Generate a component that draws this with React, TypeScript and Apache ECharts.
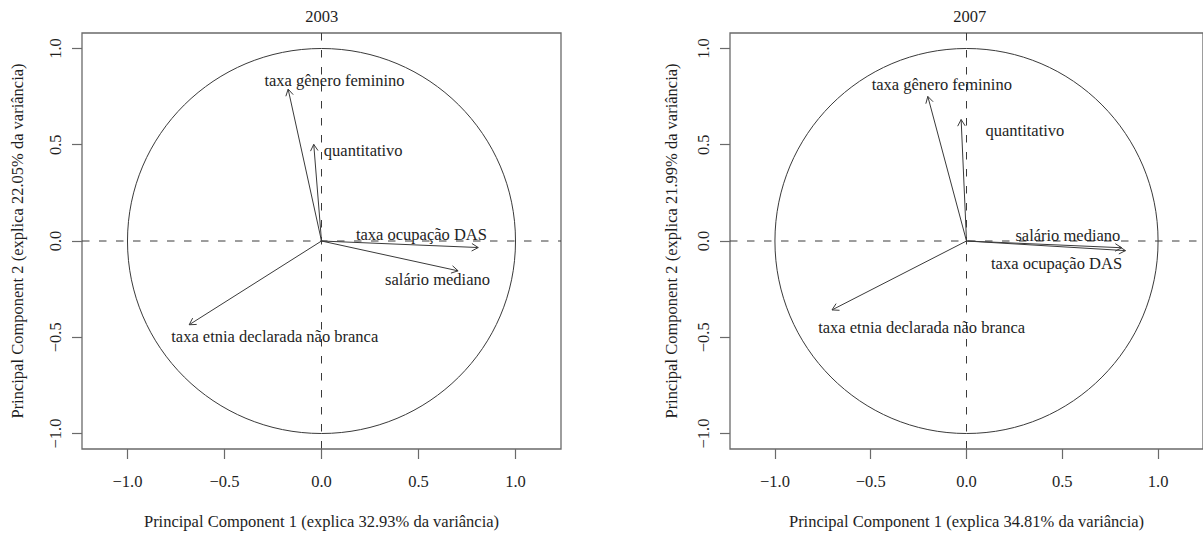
import React, { useEffect, useRef } from "react";
import * as echarts from "echarts";

const variables = [
  "quantitativo",
  "taxa gênero feminino",
  "taxa etnia declarada não branca",
  "taxa ocupação DAS",
  "salário mediano",
];

// 2003 loadings (PC1, PC2) and label anchors (data units)
const pc1_2003 = [-0.04, -0.172, -0.682, 0.808, 0.704];
const pc2_2003 = [0.502, 0.789, -0.435, -0.034, -0.155];
const labelX_2003 = [0.215, 0.067, -0.241, 0.515, 0.598];
const labelY_2003 = [0.471, 0.832, -0.494, 0.034, -0.198];

// 2007 loadings (PC1, PC2) and label anchors (data units)
const pc1_2007 = [-0.028, -0.202, -0.702, 0.83, 0.81];
const pc2_2007 = [0.631, 0.751, -0.358, -0.05, -0.035];
const labelX_2007 = [0.305, -0.129, -0.234, 0.47, 0.529];
const labelY_2007 = [0.574, 0.811, -0.447, -0.115, 0.029];

const years = ["2003", "2007"];
const pc1Explained = ["32.93", "34.81"];
const pc2Explained = ["22.05", "21.99"];
const tickValues = [-1, -0.5, 0, 0.5, 1];

const FONT = "Liberation Serif";
const INK = "#1e1e1e";
const LINE = "#3a3a3a";
const BOX = "#6a6a6a";

const fmt = (v: number) => {
  const s = Math.abs(v).toFixed(1);
  return v < 0 ? "\u2212" + s : s;
};

function makeAxis(kind: "x" | "y", gi: number, name: string, nameGap: number, range: number) {
  return {
    type: "value",
    gridIndex: gi,
    min: -range,
    max: range,
    name,
    nameLocation: "middle",
    nameGap,
    nameTextStyle: { fontFamily: FONT, fontSize: 16.5, color: INK },
    axisLine: { show: false, onZero: false },
    splitLine: { show: false },
    axisTick: {
      show: true,
      length: 10,
      customValues: tickValues,
      lineStyle: { color: BOX, width: 1.2 },
    },
    axisLabel: {
      show: true,
      customValues: tickValues,
      formatter: (v: number) => fmt(v),
      fontFamily: FONT,
      fontSize: 16.5,
      color: INK,
      margin: kind === "x" ? 24 : 18,
      rotate: kind === "y" ? 90 : 0,
      showMinLabel: true,
      showMaxLabel: true,
    },
  };
}

function circleSeries(i: number) {
  return {
    type: "custom",
    xAxisIndex: i,
    yAxisIndex: i,
    silent: true,
    data: [[0, 0]],
    renderItem: (params: any, api: any) => {
      const c = api.coord([0, 0]);
      const r = api.size([1, 1]);
      return {
        type: "ellipse",
        shape: { cx: c[0], cy: c[1], rx: r[0], ry: r[1] },
        style: { fill: "none", stroke: LINE, lineWidth: 1 },
      };
    },
  };
}

function crossSeries(i: number) {
  return {
    type: "custom",
    xAxisIndex: i,
    yAxisIndex: i,
    silent: true,
    data: [[0, 0]],
    renderItem: (params: any, api: any) => {
      const cs = params.coordSys;
      const c = api.coord([0, 0]);
      const style = { stroke: LINE, lineWidth: 1, lineDash: [7.5, 9.5] };
      return {
        type: "group",
        children: [
          { type: "line", shape: { x1: cs.x, y1: c[1], x2: cs.x + cs.width, y2: c[1] }, style },
          { type: "line", shape: { x1: c[0], y1: cs.y, x2: c[0], y2: cs.y + cs.height }, style },
        ],
      };
    },
  };
}

function arrowSeries(i: number, pc1: number[], pc2: number[], lx: number[], ly: number[]) {
  return {
    type: "custom",
    xAxisIndex: i,
    yAxisIndex: i,
    silent: true,
    data: variables.map((_, k) => [pc1[k], pc2[k], lx[k], ly[k]]),
    renderItem: (params: any, api: any) => {
      const o = api.coord([0, 0]);
      const p = api.coord([api.value(0), api.value(1)]);
      const l = api.coord([api.value(2), api.value(3)]);
      const ang = Math.atan2(p[1] - o[1], p[0] - o[0]);
      const L = 7.5;
      const a = Math.PI / 6;
      const h1 = [p[0] - L * Math.cos(ang - a), p[1] - L * Math.sin(ang - a)];
      const h2 = [p[0] - L * Math.cos(ang + a), p[1] - L * Math.sin(ang + a)];
      return {
        type: "group",
        children: [
          { type: "line", shape: { x1: o[0], y1: o[1], x2: p[0], y2: p[1] }, style: { stroke: LINE, lineWidth: 1 } },
          { type: "polyline", shape: { points: [h1, p, h2] }, style: { stroke: LINE, lineWidth: 1, fill: null } },
          {
            type: "text",
            x: l[0],
            y: l[1],
            style: {
              text: variables[params.dataIndex],
              align: "center",
              verticalAlign: "middle",
              fontFamily: FONT,
              fontSize: 16.5,
              fill: INK,
            },
          },
        ],
      };
    },
  };
}

export default function App() {
  const ref = useRef<HTMLDivElement>(null);
  useEffect(() => {
    if (!ref.current) return;
    const chart = echarts.init(ref.current, null, { renderer: "svg" });
    const xRange = 1.2345;
    const yRange = 1.0805;
    const grids = [
      { left: 82, top: 33, width: 479, height: 419 },
      { left: 730, top: 33, width: 479, height: 419 },
    ].map((g) => ({ ...g, show: true, borderColor: BOX, borderWidth: 1.3, backgroundColor: "transparent" }));
    const option = {
      animation: false,
      backgroundColor: "#ffffff",
      grid: grids,
      xAxis: [0, 1].map((i) =>
        makeAxis("x", i, `Principal Component 1 (explica ${pc1Explained[i]}% da variância)`, 64, xRange)
      ),
      yAxis: [0, 1].map((i) =>
        makeAxis("y", i, `Principal Component 2 (explica ${pc2Explained[i]}% da variância)`, i === 0 ? 56 : 50, yRange)
      ),
      graphic: [
        { type: "text", x: 321.7, y: 16, style: { text: years[0], align: "center", verticalAlign: "middle", fontFamily: FONT, fontSize: 16.5, fill: INK } },
        { type: "text", x: 969.7, y: 16, style: { text: years[1], align: "center", verticalAlign: "middle", fontFamily: FONT, fontSize: 16.5, fill: INK } },
      ],
      series: [
        crossSeries(0),
        circleSeries(0),
        arrowSeries(0, pc1_2003, pc2_2003, labelX_2003, labelY_2003),
        crossSeries(1),
        circleSeries(1),
        arrowSeries(1, pc1_2007, pc2_2007, labelX_2007, labelY_2007),
      ],
    };
    chart.setOption(option as any);
    return () => chart.dispose();
  }, []);
  return (
    <div
      ref={ref}
      style={{ position: "fixed", left: 0, top: 0, width: 1203, height: 535, background: "#fff" }}
    />
  );
}
